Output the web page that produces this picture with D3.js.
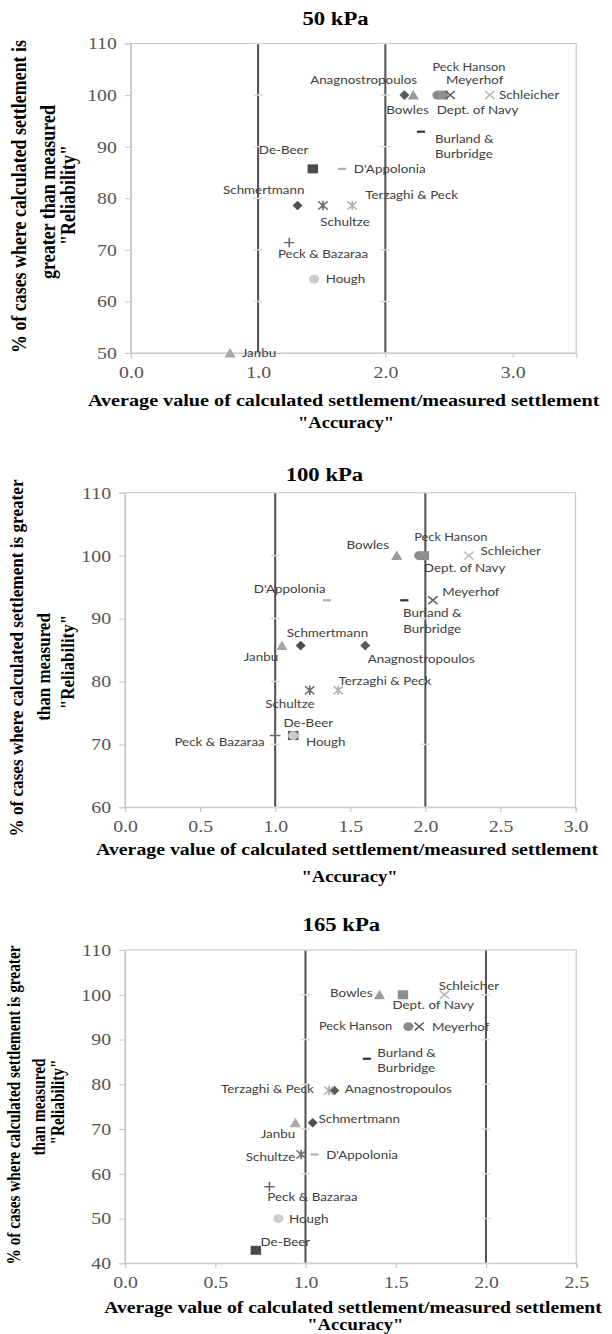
<!DOCTYPE html>
<html>
<head>
<meta charset="utf-8">
<script src="https://cdn.jsdelivr.net/npm/d3@7"></script>
<style>
  body { margin: 0; background: #fff; }
  svg { display: block; }
  .serif { font-family: "Liberation Serif", "Times New Roman", serif; }
  .lbl { font-family: Lato, "Liberation Sans", sans-serif; font-size: 11.5px; fill: #404040; }
</style>
</head>
<body>
<div id="chart"></div>
<script>
// settlement methods, same order in every panel
const methods = [
  "Anagnostropoulos", "Bowles", "Peck Hanson", "Dept. of Navy", "Meyerhof",
  "Schleicher", "Burland & Burbridge", "De-Beer", "D'Appolonia", "Schmertmann",
  "Schultze", "Terzaghi & Peck", "Peck & Bazaraa", "Hough", "Janbu"
];

// 50 kPa
const accuracy50 = [2.15, 2.22, 2.41, 2.45, 2.51, 2.82, 2.28, 1.43, 1.66, 1.31, 1.51, 1.74, 1.245, 1.44, 0.78];
const reliability50 = [100, 100, 100, 100, 100, 100, 92.9, 85.7, 85.7, 78.6, 78.6, 78.6, 71.4, 64.3, 50];
const xTicks50 = [0, 1, 2, 3];
const yTicks50 = [50, 60, 70, 80, 90, 100, 110];

// 100 kPa
const accuracy100 = [1.60, 1.81, 1.96, 1.99, 2.05, 2.29, 1.86, 1.12, 1.345, 1.17, 1.23, 1.42, 1.0, 1.12, 1.045];
const reliability100 = [85.7, 100, 100, 100, 92.9, 100, 92.9, 71.4, 92.9, 85.7, 78.6, 78.6, 71.4, 71.4, 85.7];
const xTicks100 = [0, 0.5, 1, 1.5, 2, 2.5, 3];
const yTicks100 = [60, 70, 80, 90, 100, 110];

// 165 kPa
const accuracy165 = [1.16, 1.41, 1.57, 1.54, 1.63, 1.77, 1.34, 0.725, 1.05, 1.04, 0.976, 1.13, 0.80, 0.85, 0.944];
const reliability165 = [78.6, 100, 92.9, 100, 92.9, 100, 85.7, 42.9, 64.3, 71.4, 64.3, 78.6, 57.1, 50, 71.4];
const xTicks165 = [0, 0.5, 1, 1.5, 2, 2.5];
const yTicks165 = [40, 50, 60, 70, 80, 90, 100, 110];

// the two reference lines
const refLines = [1, 2];

// marker look per method
const markerStyle = {
  "Anagnostropoulos": ["diamond", "#5a5a5a"],
  "Bowles": ["triangle", "#9a9a9a"],
  "Peck Hanson": ["circle", "#8a8a8a"],
  "Dept. of Navy": ["square", "#8f8f8f"],
  "Meyerhof": ["x", "#5e5e5e"],
  "Schleicher": ["x", "#b5b5b5"],
  "Burland & Burbridge": ["dash", "#333333"],
  "De-Beer": ["square", "#4a4a4a"],
  "D'Appolonia": ["dash", "#b0b0b0"],
  "Schmertmann": ["diamond", "#505050"],
  "Schultze": ["asterisk", "#6a6a6a"],
  "Terzaghi & Peck": ["asterisk", "#b0b0b0"],
  "Peck & Bazaraa": ["plus", "#6a6a6a"],
  "Hough": ["circle", "#cccccc"],
  "Janbu": ["triangle", "#a8a8a8"]
};

// label offsets from the marker: dx, dy, anchor
const labels50 = {
  "Anagnostropoulos": [-35, -15, "middle"],
  "Bowles": [-5, 15, "middle"],
  "Peck Hanson": [27, -28, "middle"],
  "Dept. of Navy": [30, 15, "middle"],
  "Meyerhof": [21, -15, "middle"],
  "Schleicher": [8, 0, "start"],
  "Burland & Burbridge": [12, 7, "start"],
  "De-Beer": [-25, -19, "middle"],
  "D'Appolonia": [10, 0, "start"],
  "Schmertmann": [-29, -15, "middle"],
  "Schultze": [19, 17, "middle"],
  "Terzaghi & Peck": [51, -10, "middle"],
  "Peck & Bazaraa": [29, 11, "middle"],
  "Hough": [10, 0, "start"],
  "Janbu": [10, 0, "start"]
};
const labels100 = {
  "Anagnostropoulos": [48, 13, "middle"],
  "Bowles": [-25, -11, "middle"],
  "Peck Hanson": [27, -18, "middle"],
  "Dept. of Navy": [35, 12, "middle"],
  "Meyerhof": [8, -8, "start"],
  "Schleicher": [10, -5, "start"],
  "Burland & Burbridge": [24, 13, "middle"],
  "De-Beer": [13, -13, "middle"],
  "D'Appolonia": [-32, -11, "middle"],
  "Schmertmann": [23, -13, "middle"],
  "Schultze": [-17, 14, "middle"],
  "Terzaghi & Peck": [40, -9, "middle"],
  "Peck & Bazaraa": [-9, 6, "end"],
  "Hough": [11, 6, "start"],
  "Janbu": [-18, 11, "middle"]
};
const labels165 = {
  "Anagnostropoulos": [9, -2, "start"],
  "Bowles": [-6, -2, "end"],
  "Peck Hanson": [-14, 0, "end"],
  "Dept. of Navy": [26, 10, "middle"],
  "Meyerhof": [11, 0, "start"],
  "Schleicher": [21, -9, "middle"],
  "Burland & Burbridge": [9, -6, "start"],
  "De-Beer": [4, -8, "start"],
  "D'Appolonia": [10, 0, "start"],
  "Schmertmann": [5, -4, "start"],
  "Schultze": [-5, 2, "end"],
  "Terzaghi & Peck": [-13, -2, "end"],
  "Peck & Bazaraa": [37, 10, "middle"],
  "Hough": [9, 0, "start"],
  "Janbu": [-15, 11, "middle"]
};

const panels = [
  {
    title: "50 kPa", acc: accuracy50, rel: reliability50, labels: labels50,
    xDomain: [0, 3.5], yDomain: [50, 110], xTicks: xTicks50, yTicks: yTicks50,
    left: 112.3, right: 494.6, top: 43.5, bottom: 353,
    titleX: 288, titleY: 25,
    yTitle: ["% of cases where calculated settlement is", "greater than measured", "\"Reliability\""],
    yTitleX: [22.5, 47.3, 64.8], yTitleY: [196.5, 192, 195], yTitleLen: 313, yTitleSize: 18,
    xTitleX: 295, xTitleY: 406.5, xTitleLen: 439, accY: 428
  },
  {
    title: "100 kPa", acc: accuracy100, rel: reliability100, labels: labels100,
    xDomain: [0, 3], yDomain: [60, 110], xTicks: xTicks100, yTicks: yTicks100,
    left: 107.3, right: 494, top: 492.7, bottom: 807.3,
    titleX: 278.5, titleY: 481.5,
    yTitle: ["% of cases where calculated settlement is greater", "than measured", "\"Reliability\""],
    yTitleX: [19.5, 43, 63.5], yTitleY: [658, 667, 662], yTitleLen: 357, yTitleSize: 17,
    xTitleX: 298, xTitleY: 855, xTitleLen: 431, accY: 882
  },
  {
    title: "165 kPa", acc: accuracy165, rel: reliability165, labels: labels165,
    xDomain: [0, 2.5], yDomain: [40, 110], xTicks: xTicks165, yTicks: yTicks165,
    left: 107.3, right: 494.6, top: 950, bottom: 1263.3,
    titleX: 293, titleY: 931.5,
    yTitle: ["% of cases where calculated settlement is greater", "than measured", "\"Reliability\""],
    yTitleX: [17.5, 38.5, 55], yTitleY: [1105, 1107, 1102], yTitleLen: 319, yTitleSize: 15.3,
    xTitleX: 303, xTitleY: 1313, xTitleLen: 427, accY: 1330
  }
];

// the source figure is stretched sideways, so draw in narrower units and widen
const sx = 1.165;

const svg = d3.select("#chart").append("svg")
  .attr("width", 612)
  .attr("height", 1334);

const root = svg.append("g").attr("transform", `scale(${sx},1)`);

function drawMarker(g, shape, color) {
  if (shape === "square") {
    g.append("rect").attr("x", -4.5).attr("y", -4.5).attr("width", 9).attr("height", 9).attr("fill", color);
  } else if (shape === "diamond") {
    g.append("path").attr("d", "M0,-4.8L4.3,0L0,4.8L-4.3,0Z").attr("fill", color);
  } else if (shape === "triangle") {
    g.append("path").attr("d", "M0,-5L4.8,4.5L-4.8,4.5Z").attr("fill", color);
  } else if (shape === "circle") {
    g.append("circle").attr("r", 4.4).attr("fill", color);
  } else if (shape === "dash") {
    g.append("rect").attr("x", -3.5).attr("y", -1.1).attr("width", 7).attr("height", 2.2).attr("fill", color);
  } else {
    const p = d3.path();
    if (shape === "x" || shape === "asterisk") {
      p.moveTo(-4, -4); p.lineTo(4, 4);
      p.moveTo(-4, 4); p.lineTo(4, -4);
    }
    if (shape === "asterisk" || shape === "plus") {
      p.moveTo(0, -4.8); p.lineTo(0, 4.8);
    }
    if (shape === "plus") {
      p.moveTo(-4.5, 0); p.lineTo(4.5, 0);
    }
    g.append("path").attr("d", p.toString()).attr("fill", "none")
      .attr("stroke", color).attr("stroke-width", 1.4);
  }
}

function drawPanel(pn) {
  const x = d3.scaleLinear().domain(pn.xDomain).range([pn.left, pn.right]);
  const y = d3.scaleLinear().domain(pn.yDomain).range([pn.bottom, pn.top]);
  const g = root.append("g");

  // plot frame
  g.append("rect")
    .attr("x", pn.left).attr("y", pn.top)
    .attr("width", pn.right - pn.left).attr("height", pn.bottom - pn.top)
    .attr("fill", "none").attr("stroke", "#c6c6c6").attr("stroke-width", 1);

  const xAxis = g.append("g")
    .attr("class", "serif")
    .attr("transform", `translate(0,${pn.bottom})`)
    .call(d3.axisBottom(x).tickValues(pn.xTicks).tickFormat(d3.format(".1f")).tickSize(5).tickPadding(8));

  const yAxis = g.append("g")
    .attr("class", "serif")
    .attr("transform", `translate(${pn.left},0)`)
    .call(d3.axisLeft(y).tickValues(pn.yTicks).tickSize(5).tickPadding(7));

  [xAxis, yAxis].forEach((a) => {
    a.select(".domain").attr("stroke", "#c6c6c6");
    a.selectAll(".tick line").attr("stroke", "#c6c6c6");
    a.selectAll(".tick text")
      .attr("fill", "#555")
      .style("font-size", "17px")
      .style("font-family", "'Liberation Serif', 'Times New Roman', serif");
  });

  // reference lines at accuracy 1 and 2
  g.selectAll(".ref")
    .data(refLines)
    .join("line")
    .attr("class", "ref")
    .attr("x1", (d) => x(d)).attr("x2", (d) => x(d))
    .attr("y1", pn.top).attr("y2", pn.bottom)
    .attr("stroke", "#555").attr("stroke-width", 1.8);

  // faint tick crosses along the reference lines
  const crosses = [];
  refLines.forEach((r) => pn.yTicks.forEach((t) => crosses.push([r, t])));
  g.selectAll(".cross")
    .data(crosses)
    .join("line")
    .attr("class", "cross")
    .attr("x1", (d) => x(d[0]) - 4).attr("x2", (d) => x(d[0]) + 4)
    .attr("y1", (d) => y(d[1])).attr("y2", (d) => y(d[1]))
    .attr("stroke", "#dadada").attr("stroke-width", 1.5);

  // points
  const pts = methods.map((m, i) => ({ name: m, acc: pn.acc[i], rel: pn.rel[i] }));

  const mk = g.selectAll(".pt")
    .data(pts)
    .join("g")
    .attr("class", "pt")
    .attr("transform", (d) => `translate(${x(d.acc)},${y(d.rel)})`);
  mk.each(function (d) {
    const st = markerStyle[d.name];
    drawMarker(d3.select(this), st[0], st[1]);
  });

  // data labels
  pts.forEach((d) => {
    const lp = pn.labels[d.name];
    const t = g.append("text")
      .attr("class", "lbl")
      .attr("x", x(d.acc) + lp[0])
      .attr("y", y(d.rel) + lp[1])
      .attr("dy", "0.35em")
      .attr("text-anchor", lp[2]);
    if (d.name === "Peck Hanson") t.style("font-size", "11px");
    if (d.name === "Burland & Burbridge") {
      t.append("tspan").attr("x", x(d.acc) + lp[0]).text("Burland &");
      t.append("tspan").attr("x", x(d.acc) + lp[0]).attr("dy", "1.35em").text("Burbridge");
    } else {
      t.text(d.name);
    }
  });

  // title
  g.append("text")
    .attr("class", "serif")
    .attr("x", pn.titleX).attr("y", pn.titleY)
    .attr("text-anchor", "middle")
    .style("font-size", "19.5px").style("font-weight", "bold")
    .text(pn.title);

  // x title
  g.append("text")
    .attr("class", "serif")
    .attr("x", pn.xTitleX).attr("y", pn.xTitleY)
    .attr("text-anchor", "middle")
    .attr("textLength", pn.xTitleLen).attr("lengthAdjust", "spacingAndGlyphs")
    .style("font-size", "16px").style("font-weight", "bold")
    .text("Average  value of calculated settlement/measured settlement");
  g.append("text")
    .attr("class", "serif")
    .attr("x", pn.xTitleX + 2).attr("y", pn.accY)
    .attr("text-anchor", "middle")
    .style("font-size", "16px").style("font-weight", "bold")
    .text("\"Accuracy\"");

  // y title, three rotated lines
  pn.yTitle.forEach((line, i) => {
    const t = g.append("text")
      .attr("class", "serif")
      .attr("transform", `translate(${pn.yTitleX[i]},${pn.yTitleY[i]}) rotate(-90)`)
      .attr("text-anchor", "middle")
      .style("font-size", pn.yTitleSize + "px").style("font-weight", "bold")
      .text(line);
    if (i === 0) t.attr("textLength", pn.yTitleLen).attr("lengthAdjust", "spacingAndGlyphs");
  });
}

panels.forEach(drawPanel);
</script>
</body>
</html>
